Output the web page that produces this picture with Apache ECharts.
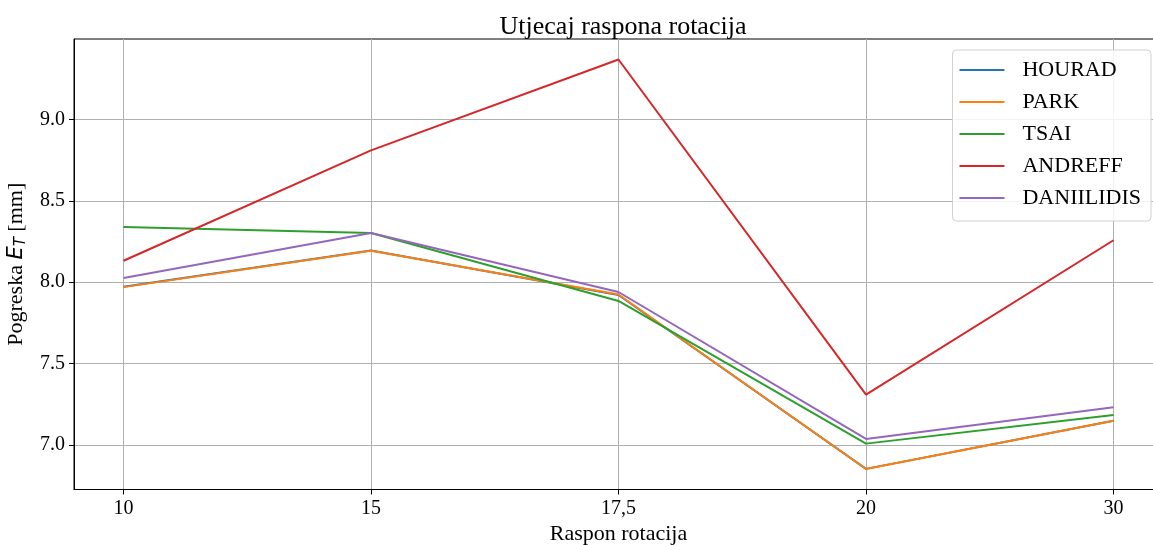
<!DOCTYPE html>
<html>
<head>
<meta charset="utf-8">
<script src="https://cdn.jsdelivr.net/npm/echarts@6/dist/echarts.min.js"></script>
<style>
html,body{margin:0;padding:0;background:#fff;overflow:hidden;}
#chart{width:1153px;height:545px;}
</style>
</head>
<body>
<div id="chart"></div>
<script>
const categories = ['10', '15', '17,5', '20', '30'];
const hourad     = [7.972, 8.195, 7.922, 6.854, 7.149];
const park       = [7.970, 8.193, 7.925, 6.853, 7.150];
const tsai       = [8.340, 8.302, 7.885, 7.009, 7.185];
const andreff    = [8.132, 8.810, 9.368, 7.310, 8.258];
const daniilidis = [8.026, 8.302, 7.940, 7.038, 7.232];
const yTicks = [7.0, 7.5, 8.0, 8.5, 9.0];

const seriesDefs = [
  ['HOURAD', hourad, '#1f77b4'],
  ['PARK', park, '#ff7f0e'],
  ['TSAI', tsai, '#2ca02c'],
  ['ANDREFF', andreff, '#d62728'],
  ['DANIILIDIS', daniilidis, '#9467bd']
];

const all = [].concat(hourad, park, tsai, andreff, daniilidis);
const dMin = Math.min.apply(null, all), dMax = Math.max.apply(null, all);
const span = dMax - dMin;
const yMin = dMin - 0.05 * span, yMax = dMax + 0.05 * span;
const n = categories.length;
const xMin = -0.05 * (n - 1), xMax = (n - 1) * 1.05;
const xIdx = categories.map((c, i) => i);

const serif = 'Liberation Serif';
const chart = echarts.init(document.getElementById('chart'));
chart.setOption({
  animation: false,
  backgroundColor: '#fff',
  title: {
    text: 'Utjecaj raspona rotacija',
    left: 618, textAlign: 'center', top: 9,
    textStyle: { fontFamily: serif, fontSize: 26, fontWeight: 'normal', color: '#000' }
  },
  legend: {
    right: 2, top: 50, orient: 'vertical',
    icon: 'path://M0,0H45V2H0Z', itemWidth: 45, itemHeight: 2, itemGap: 10,
    padding: [9, 10, 12, 7],
    backgroundColor: 'rgba(255,255,255,0.85)', borderColor: '#d0d0d0', borderWidth: 1, borderRadius: 4,
    textStyle: { fontFamily: serif, fontSize: 22, color: '#000', padding: [0, 0, 0, 13], lineHeight: 22 },
    data: seriesDefs.map(s => s[0])
  },
  grid: { left: 74, right: -10, top: 39, bottom: 55.5, show: true, borderColor: '#000', borderWidth: 1,
    outerBoundsMode: 'none', containLabel: false },
  xAxis: {
    type: 'value', min: xMin, max: xMax,
    name: 'Raspon rotacija', nameLocation: 'middle', nameGap: 32,
    nameTextStyle: { fontFamily: serif, fontSize: 22, color: '#000' },
    axisLine: { show: true, onZero: false, lineStyle: { color: '#000', width: 1 } },
    axisTick: { show: true, customValues: xIdx, length: 5, inside: false, lineStyle: { color: '#000' } },
    axisLabel: { customValues: xIdx, margin: 9, fontFamily: serif, fontSize: 20, color: '#000',
      formatter: v => categories[Math.round(v)] },
    splitLine: { show: true, lineStyle: { color: '#b0b0b0', width: 1 } }
  },
  yAxis: {
    type: 'value', min: yMin, max: yMax,
    name: 'Pogreska {i|E}{s|T} [mm]', nameLocation: 'middle', nameGap: 42, nameRotate: 90,
    nameTextStyle: { fontFamily: serif, fontSize: 22, color: '#000',
      rich: {
        i: { fontFamily: 'DejaVu Sans', fontStyle: 'italic', fontSize: 21, color: '#000' },
        s: { fontFamily: 'DejaVu Sans', fontStyle: 'italic', fontSize: 15, color: '#000', padding: [10, 0, 0, 0], verticalAlign: 'bottom' }
      } },
    axisLine: { show: true, onZero: false, lineStyle: { color: '#000', width: 1 } },
    axisTick: { show: true, customValues: yTicks, length: 5, lineStyle: { color: '#000' } },
    axisLabel: { customValues: yTicks, margin: 9, fontFamily: serif, fontSize: 20, color: '#000',
      formatter: v => v.toFixed(1) },
    splitLine: { show: true, lineStyle: { color: '#b0b0b0', width: 1 } }
  },
  series: seriesDefs.map(s => ({
    name: s[0], type: 'line', showSymbol: false, symbol: 'none',
    data: s[1].map((v, i) => [i, v]),
    lineStyle: { color: s[2], width: 2 }, itemStyle: { color: s[2] }
  }))
});
</script>
</body>
</html>
